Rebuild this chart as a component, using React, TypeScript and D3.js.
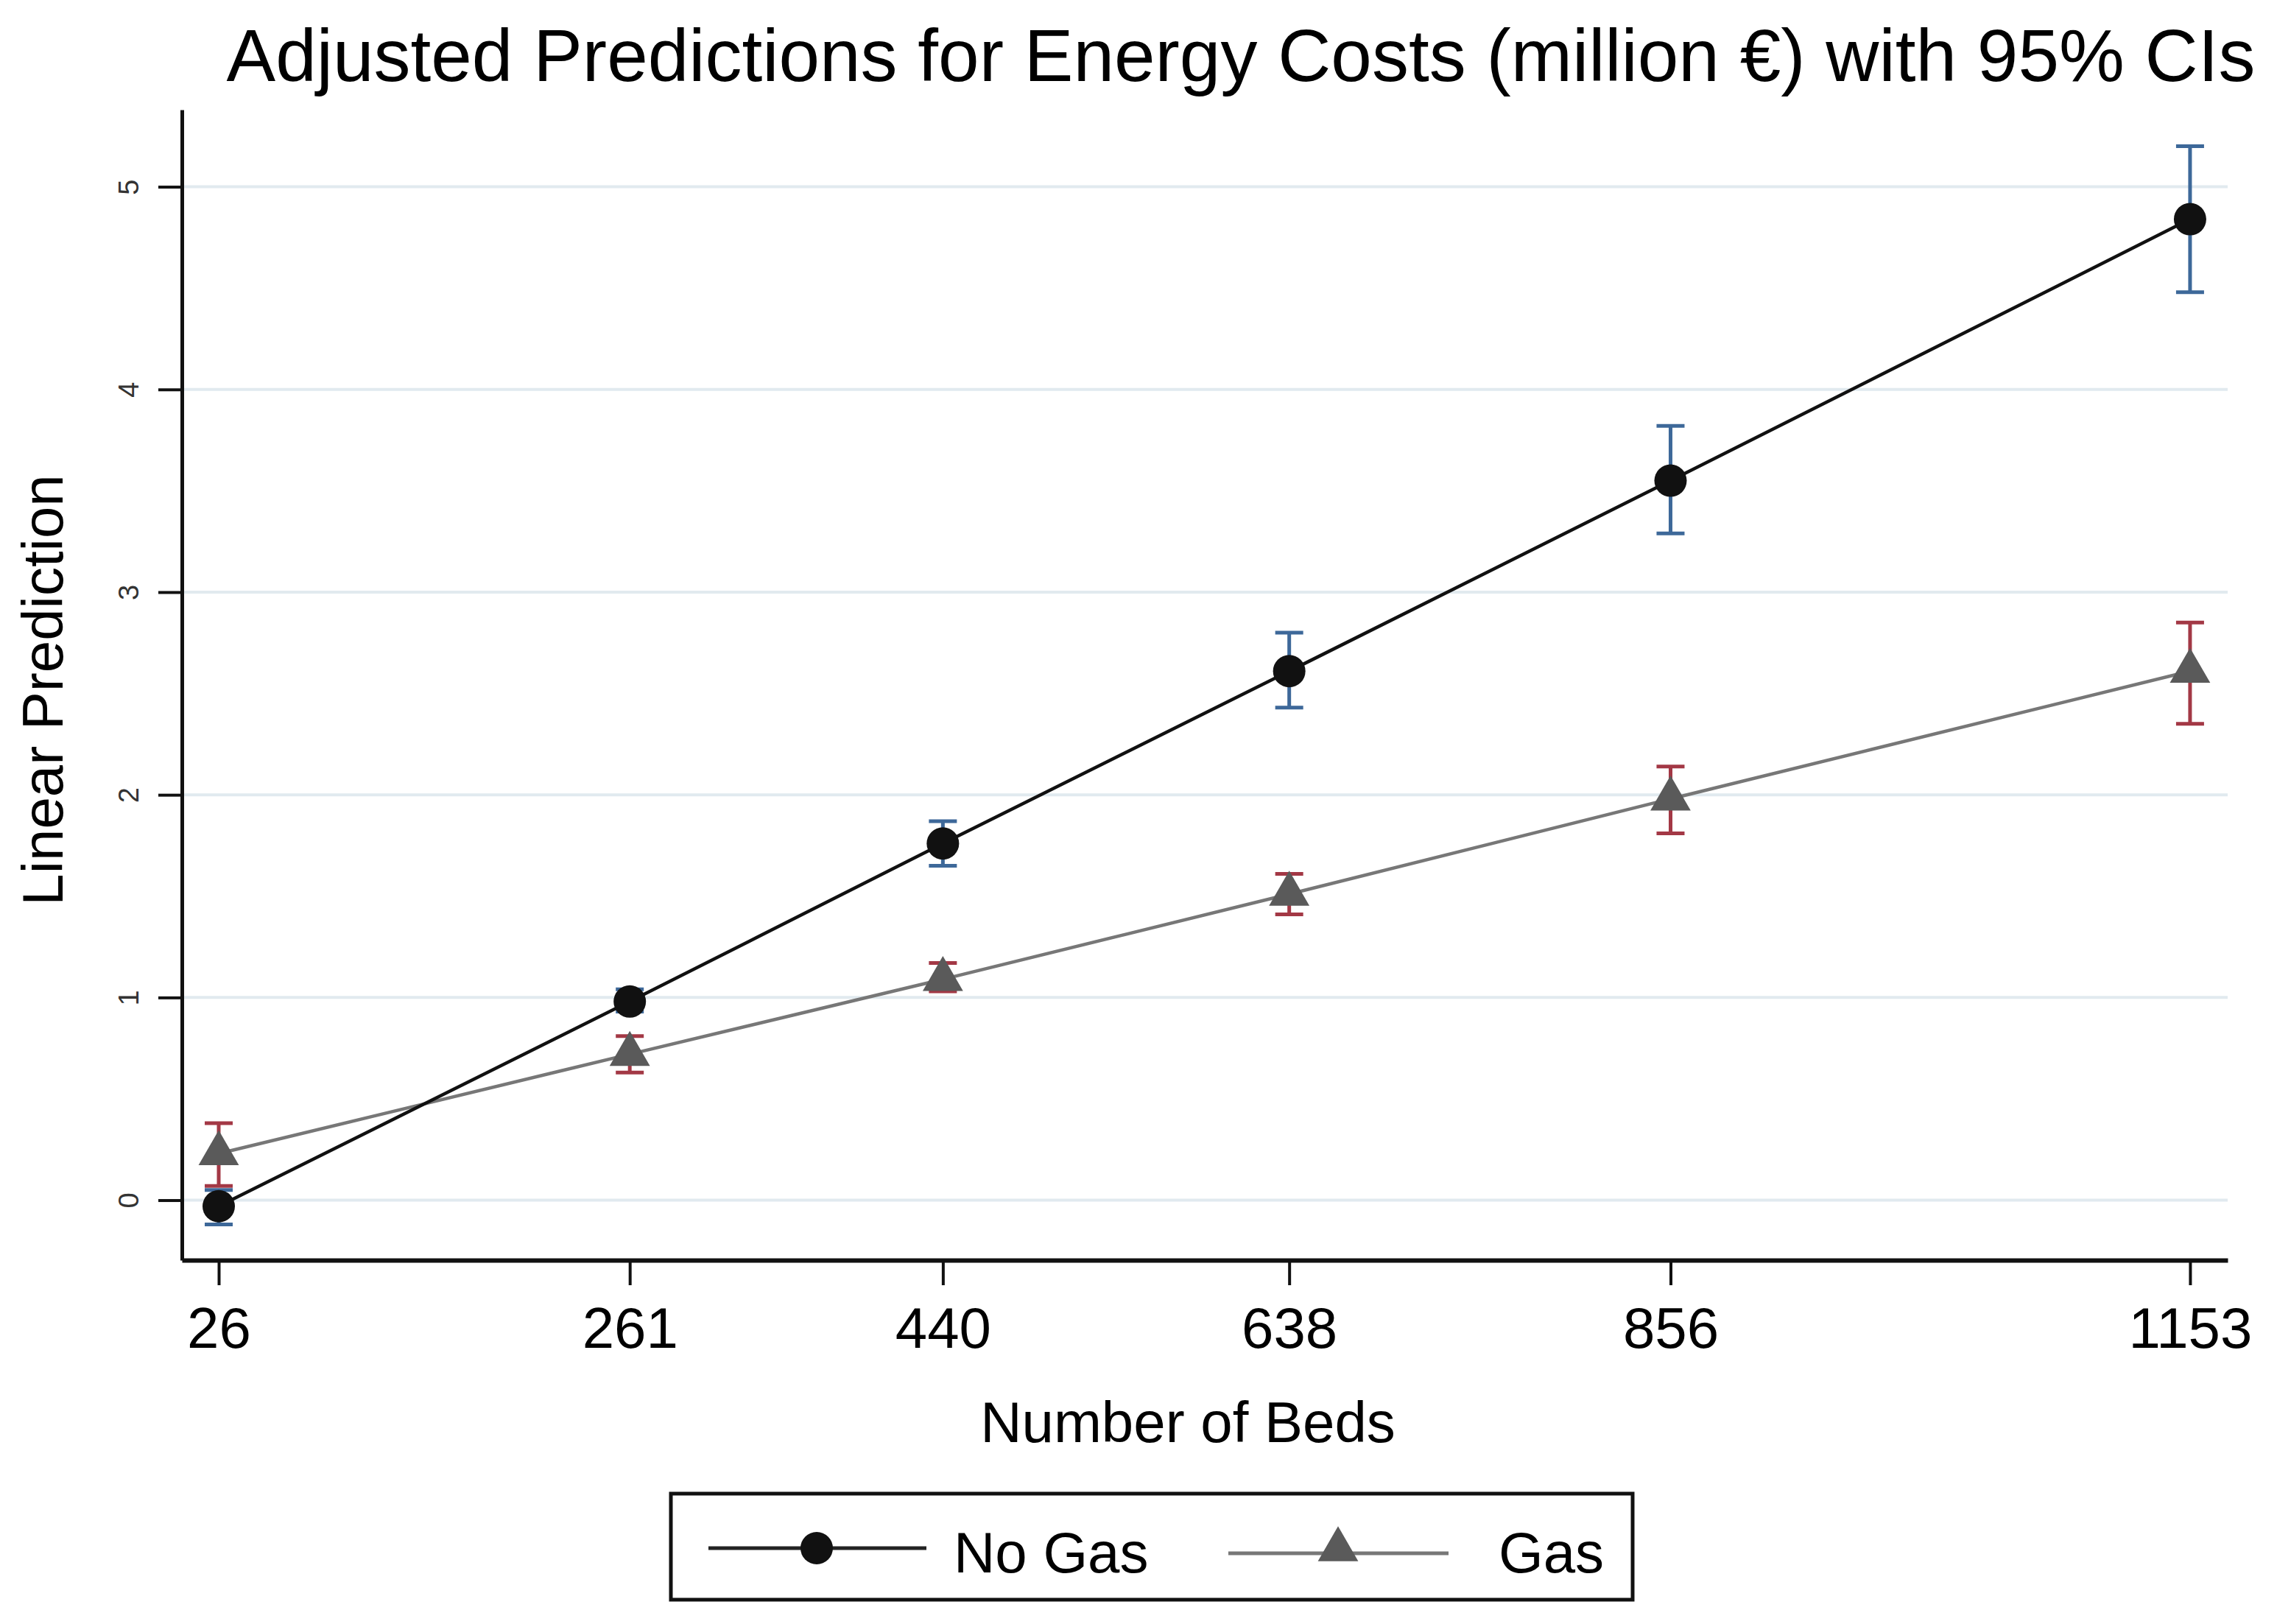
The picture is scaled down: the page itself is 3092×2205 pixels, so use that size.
import { useEffect, useRef } from 'react'
import * as d3 from 'd3'

const beds = [26, 261, 440, 638, 856, 1153]
const noGas = [-0.03, 0.98, 1.76, 2.61, 3.55, 4.84]
const noGasLo = [-0.12, 0.93, 1.65, 2.43, 3.29, 4.48]
const noGasHi = [0.05, 1.04, 1.87, 2.8, 3.82, 5.2]
const gas = [0.23, 0.72, 1.09, 1.51, 1.98, 2.61]
const gasLo = [0.07, 0.63, 1.03, 1.41, 1.81, 2.35]
const gasHi = [0.38, 0.81, 1.17, 1.61, 2.14, 2.85]
const yTicks = [0, 1, 2, 3, 4, 5]

const W = 3092
const H = 2205
const FONT = '"Liberation Sans", Arial, sans-serif'

export default function App() {
  const svgRef = useRef<SVGSVGElement>(null)

  useEffect(() => {
    if (!svgRef.current) return
    const svg = d3.select(svgRef.current)
    svg.selectAll('*').remove()

    const left = 247, right = 3025, top = 149, bottom = 1711

    const x = d3.scaleLinear().domain([4.95, 1174.5]).range([left, right])
    const y = d3.scaleLinear().domain([-0.296, 5.38]).range([bottom, top])

    svg.append('rect').attr('width', W).attr('height', H).attr('fill', '#ffffff')

    // gridlines
    svg.append('g').selectAll('line').data(yTicks).join('line')
      .attr('x1', left).attr('x2', right)
      .attr('y1', d => y(d)).attr('y2', d => y(d))
      .attr('stroke', '#e1eaef').attr('stroke-width', 4)

    // y axis
    const ya = svg.append('g').attr('transform', `translate(${left},0)`)
      .call(d3.axisLeft(y).tickValues(yTicks).tickSize(32).tickSizeOuter(0).tickFormat(d => `${d}`))
    ya.select('.domain').attr('stroke', '#111').attr('stroke-width', 5)
    ya.selectAll('.tick line').attr('stroke', '#111').attr('stroke-width', 4)
    ya.selectAll('.tick text')
      .attr('font-family', FONT).attr('font-size', 38).attr('fill', '#333')
      .attr('transform', 'rotate(-90)')
      .attr('text-anchor', 'middle')
      .attr('x', 0).attr('dy', 0)
      .attr('y', -59)

    // x axis
    const xa = svg.append('g').attr('transform', `translate(0,${bottom})`)
      .call(d3.axisBottom(x).tickValues(beds).tickSize(34).tickSizeOuter(0).tickPadding(30).tickFormat(d => `${d}`))
    xa.select('.domain').attr('stroke', '#111').attr('stroke-width', 6)
    xa.selectAll('.tick line').attr('stroke', '#111').attr('stroke-width', 4)
    xa.selectAll('.tick text').attr('font-family', FONT).attr('font-size', 78).attr('fill', '#000')

    // axis titles
    svg.append('text')
      .attr('x', 1613).attr('y', 1958).attr('text-anchor', 'middle')
      .attr('font-family', FONT).attr('font-size', 78).attr('fill', '#000')
      .text('Number of Beds')
    svg.append('text')
      .attr('transform', `translate(85,937) rotate(-90)`)
      .attr('text-anchor', 'middle')
      .attr('font-family', FONT).attr('font-size', 78).attr('fill', '#000')
      .text('Linear Prediction')

    // title
    svg.append('text')
      .attr('x', 1685).attr('y', 110).attr('text-anchor', 'middle')
      .attr('font-family', FONT).attr('font-size', 100).attr('fill', '#000')
      .attr('textLength', 2755).attr('lengthAdjust', 'spacingAndGlyphs')
      .text('Adjusted Predictions for Energy Costs (million €) with 95% CIs')

    const cap = 19
    const drawCI = (lo: number[], hi: number[], color: string) => {
      const g = svg.append('g').attr('stroke', color).attr('stroke-width', 5)
      beds.forEach((b, i) => {
        g.append('line').attr('x1', x(b)).attr('x2', x(b)).attr('y1', y(lo[i])).attr('y2', y(hi[i]))
        g.append('line').attr('x1', x(b) - cap).attr('x2', x(b) + cap).attr('y1', y(lo[i])).attr('y2', y(lo[i]))
        g.append('line').attr('x1', x(b) - cap).attr('x2', x(b) + cap).attr('y1', y(hi[i])).attr('y2', y(hi[i]))
      })
    }

    const line = d3.line<number>().x((_, i) => x(beds[i])).y(d => y(d))
    const tri = d3.symbol().type(d3.symbolTriangle).size(1300)

    // CIs first
    drawCI(noGasLo, noGasHi, '#3d6899')
    drawCI(gasLo, gasHi, '#a33845')

    // Gas series
    svg.append('path').attr('d', line(gas)).attr('fill', 'none').attr('stroke', '#777777').attr('stroke-width', 4.5)
    svg.append('g').selectAll('path').data(gas).join('path')
      .attr('d', tri)
      .attr('transform', (d, i) => `translate(${x(beds[i])},${y(d)})`)
      .attr('fill', '#5a5a5a')

    // No Gas series
    svg.append('path').attr('d', line(noGas)).attr('fill', 'none').attr('stroke', '#111').attr('stroke-width', 4.5)
    svg.append('g').selectAll('circle').data(noGas).join('circle')
      .attr('cx', (d, i) => x(beds[i])).attr('cy', d => y(d)).attr('r', 22)
      .attr('fill', '#111')

    // legend
    const lg = svg.append('g')
    lg.append('rect').attr('x', 911).attr('y', 2028).attr('width', 1306).attr('height', 144)
      .attr('fill', '#fff').attr('stroke', '#111').attr('stroke-width', 5)
    lg.append('line').attr('x1', 962).attr('x2', 1258).attr('y1', 2102).attr('y2', 2102)
      .attr('stroke', '#222').attr('stroke-width', 5)
    lg.append('circle').attr('cx', 1109).attr('cy', 2102).attr('r', 22).attr('fill', '#111')
    lg.append('text').attr('x', 1295).attr('y', 2135)
      .attr('font-family', FONT).attr('font-size', 78).attr('fill', '#000').text('No Gas')
    lg.append('line').attr('x1', 1668).attr('x2', 1967).attr('y1', 2109).attr('y2', 2109)
      .attr('stroke', '#777777').attr('stroke-width', 5)
    lg.append('path').attr('d', tri).attr('transform', 'translate(1817,2104)').attr('fill', '#5a5a5a')
    lg.append('text').attr('x', 2035).attr('y', 2135)
      .attr('font-family', FONT).attr('font-size', 78).attr('fill', '#000').text('Gas')
  }, [])

  return (
    <svg
      ref={svgRef}
      width={W}
      height={H}
      style={{ position: 'absolute', left: 0, top: 0, display: 'block' }}
    />
  )
}
